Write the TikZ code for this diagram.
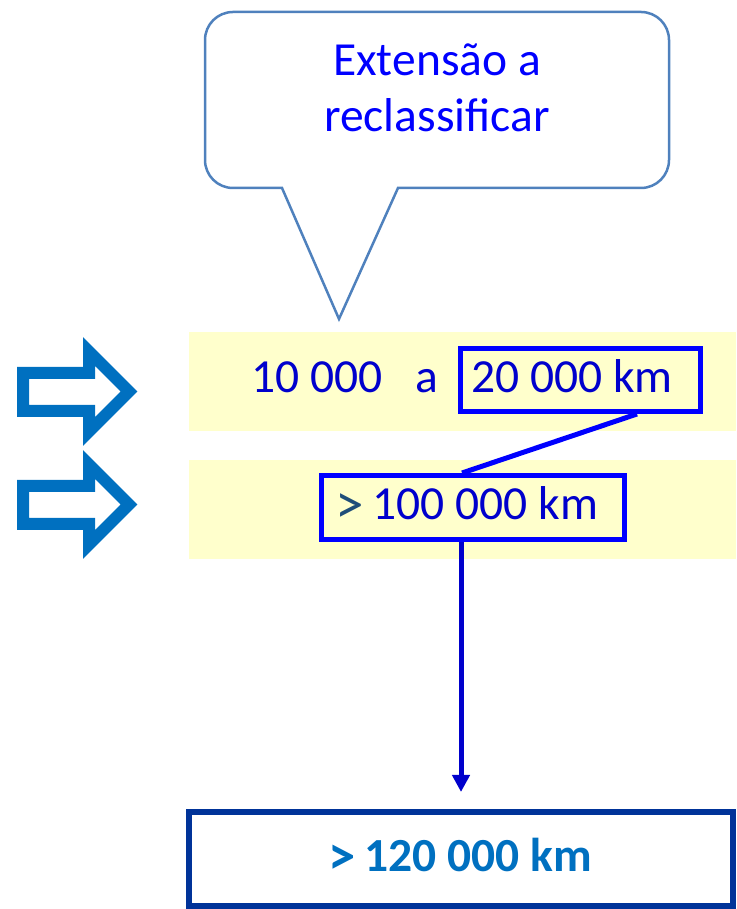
\documentclass[tikz,border=0pt]{standalone}
\usepackage{fontspec}
\usepackage{graphicx}
\setmainfont{Carlito}
\usetikzlibrary{arrows.meta}

\definecolor{bubbleline}{HTML}{4F81BD}
\definecolor{bubbletext}{HTML}{0000FF}
\definecolor{rowtext}{HTML}{0000CC}
\definecolor{boxblue}{HTML}{0000FF}
\definecolor{gtcolor}{HTML}{1F4E79}
\definecolor{band}{HTML}{FFFFCC}
\definecolor{arrowblue}{HTML}{0070C0}
\definecolor{resultline}{HTML}{003399}
\definecolor{resulttext}{HTML}{0070C0}
\definecolor{linkblue}{HTML}{0000CC}

% a larger "greater than" sign that keeps its normal advance width
\newcommand{\biggt}[2]{\makebox[\fontcharwd\font`>][c]{\raisebox{#2}{\scalebox{#1}{>}}}}

\tikzset{
  bigtext/.style={font=\fontsize{47.5pt}{56pt}\selectfont, inner sep=0pt},
  bandfill/.style={fill=band, draw=none},
  markarrow/.style={draw=arrowblue, line width=12pt, miter limit=10},
  valuebox/.style={draw=boxblue, line width=5pt, inner sep=0pt},
  link/.style={line width=5pt},
}

\begin{document}
\begin{tikzpicture}[x=1pt, y=1pt]
\useasboundingbox (0,0) rectangle (736,909);

% speech bubble
\draw[bubbleline, line width=2.5pt, line join=miter]
  (282,721) -- (339,590) -- (398,721) -- (641,721)
  arc[start angle=-90, end angle=0, radius=28] -- (669,869)
  arc[start angle=0, end angle=90, radius=28] -- (233,897)
  arc[start angle=90, end angle=180, radius=28] -- (205,749)
  arc[start angle=180, end angle=270, radius=28] -- cycle;
\node[bigtext, text=bubbletext, anchor=base] (callA) at (437,833.3) {Extensão a};
\node[bigtext, text=bubbletext, anchor=base] (callB) at (437,777.3) {reclassificar};

% highlighted rows
\fill[bandfill] (189,478) rectangle (736,577);
\fill[bandfill] (189,350) rectangle (736,449);

% pointer arrows
\draw[markarrow] (23,536) -- (89,536) -- (89,557.5) -- (129,517.5)
  -- (89,477.5) -- (89,498) -- (23,498) -- cycle;
\draw[markarrow] (23,423) -- (89,423) -- (89,444.5) -- (129,404.5)
  -- (89,364.5) -- (89,385) -- (23,385) -- cycle;

% first row
\node[bigtext, text=rowtext, anchor=base west] (from) at (251,516) {10 000};
\node[bigtext, text=rowtext, anchor=base west] (conj) at (415,516) {a};
\node[valuebox, minimum width=240pt, minimum height=63pt] (box20) at (580.5,529) {};
\node[bigtext, text=rowtext, anchor=base west] (to) at (471,516) {20 000 km};

% second row
\node[valuebox, minimum width=303pt, minimum height=64pt] (box100) at (473,401.5) {};
\node[bigtext, text=rowtext, anchor=base west] (over) at (338,389)
  {\textcolor{gtcolor}{\biggt{1.2}{-3.5pt}} 100 000 km};

% result
\node[draw=resultline, line width=6pt, inner sep=0pt,
      minimum width=544pt, minimum height=94pt] (result) at (461,50) {};
\node[bigtext, text=resulttext, anchor=base, font=\fontsize{47.5pt}{56pt}\selectfont\bfseries]
  (resultlabel) at (461,37) {\biggt{1.15}{-3pt} 120 000 km};

% connectors
\draw[link, boxblue] ([xshift=56.5pt]box20.south) -- ([xshift=-11pt]box100.north);
\draw[link, linkblue, -{Triangle[length=17pt, width=17pt]}, shorten >=17pt]
  (box100.south -| result.north) -- (result.north);
\end{tikzpicture}
\end{document}
